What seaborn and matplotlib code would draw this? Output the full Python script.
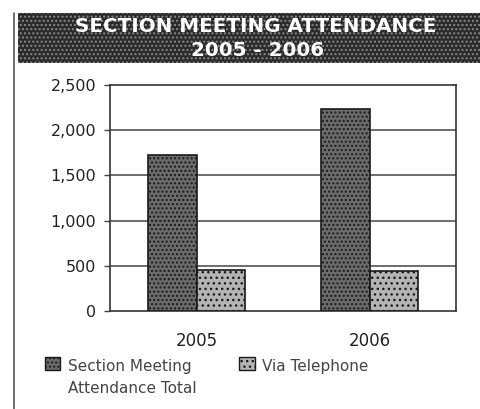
import matplotlib
matplotlib.use("Agg")
import matplotlib.pyplot as plt
import seaborn as sns
import pandas as pd
from matplotlib.patches import Rectangle, Patch
from matplotlib.lines import Line2D
from matplotlib.legend_handler import HandlerPatch

years = ["2005", "2006"]
series_names = ["Section Meeting\nAttendance Total", "Via Telephone"]
total_attendance = [1730, 2240]
via_telephone = [450, 440]
y_ticks = [0, 500, 1000, 1500, 2000, 2500]
y_tick_labels = ["0", "500", "1,000", "1,500", "2,000", "2,500"]

rows = []
for name, vals in zip(series_names, [total_attendance, via_telephone]):
    for yr, v in zip(years, vals):
        rows.append({"year": yr, "series": name, "value": v})
df = pd.DataFrame(rows)

sns.set_theme(style="white")
plt.rcParams["font.family"] = ["DejaVu Sans"]

fig = plt.figure(figsize=(4.8, 4.09), dpi=100)
fig.patch.set_facecolor("white")
W, H = 480, 409
ax = fig.add_axes([110 / W, 1 - 311 / H, (456 - 110) / W, (311 - 85) / H])

colors = ["#6b6b6b", "#b4b4b4"]
sns.barplot(data=df, x="year", y="value", hue="series", palette=colors,
            width=0.566, edgecolor="#1a1a1a", linewidth=1.2, ax=ax,
            legend=False, zorder=3)
hatches = ["....", "..."]
n = len(years)
for i, p in enumerate(ax.patches[: 2 * n]):
    p.set_hatch(hatches[i // n])

ax.set_ylim(0, 2500)
ax.set_xlim(-0.5, 1.5)
ax.set_yticks(y_ticks)
ax.set_yticklabels(y_tick_labels, fontsize=11.5, color="#222222")
ax.set_xticks(range(len(years)))
ax.set_xticklabels(years, fontsize=12, color="#222222")
ax.tick_params(axis="y", length=4, width=1, color="#444444", left=True, pad=6)
ax.tick_params(axis="x", length=0, pad=15)
ax.set_xlabel("")
ax.set_ylabel("")
for v in y_ticks[1:-1]:
    ax.axhline(v, color="#555555", linewidth=1.2, zorder=1)
for s in ax.spines.values():
    s.set_visible(True)
    s.set_color("#333333")
    s.set_linewidth(1.2)


class UpPatch(HandlerPatch):
    def __init__(self, shift, **kw):
        super().__init__(**kw)
        self.shift = shift

    def create_artists(self, legend, orig_handle, xdescent, ydescent,
                       width, height, fontsize, trans):
        return super().create_artists(legend, orig_handle, xdescent,
                                      ydescent - self.shift, width, height,
                                      fontsize, trans)


# legend
handles = [Patch(facecolor=colors[0], edgecolor="#1a1a1a", hatch=hatches[0]),
           Patch(facecolor=colors[1], edgecolor="#1a1a1a", hatch=hatches[1])]
legend_labels = [series_names[0], series_names[1] + "\n"]
leg = fig.legend(handles, legend_labels, loc="upper left",
                 bbox_to_anchor=(45 / W, 1 - 359 / H), ncol=2, frameon=False,
                 fontsize=11, handlelength=1.0, handleheight=1.0,
                 handletextpad=0.5, columnspacing=2.8, labelcolor="#444444",
                 borderaxespad=0, borderpad=0,
                 handler_map={Patch: UpPatch(shift=10.5)})
for t in leg.get_texts():
    t.set_linespacing(1.55)

# title banner
banner = Rectangle((18 / W, 1 - 63 / H), 1 - 18 / W, 50 / H,
                   transform=fig.transFigure, facecolor="#2b2b2b",
                   edgecolor="#888888", hatch="....", linewidth=0, zorder=0)
fig.patches.append(banner)
fig.text(256 / W, 1 - 26 / H, "SECTION MEETING ATTENDANCE", color="white",
         fontsize=14.3, fontweight="bold", ha="center", va="center")
fig.text(258 / W, 1 - 50 / H, "2005 - 2006", color="white",
         fontsize=14.3, fontweight="bold", ha="center", va="center")

# outer frame line
fig.add_artist(Line2D([14 / W, 14 / W], [0.0, 1 - 13 / H],
                      transform=fig.transFigure, color="#555555", linewidth=1.2))

fig.savefig("out.png", dpi=100)
